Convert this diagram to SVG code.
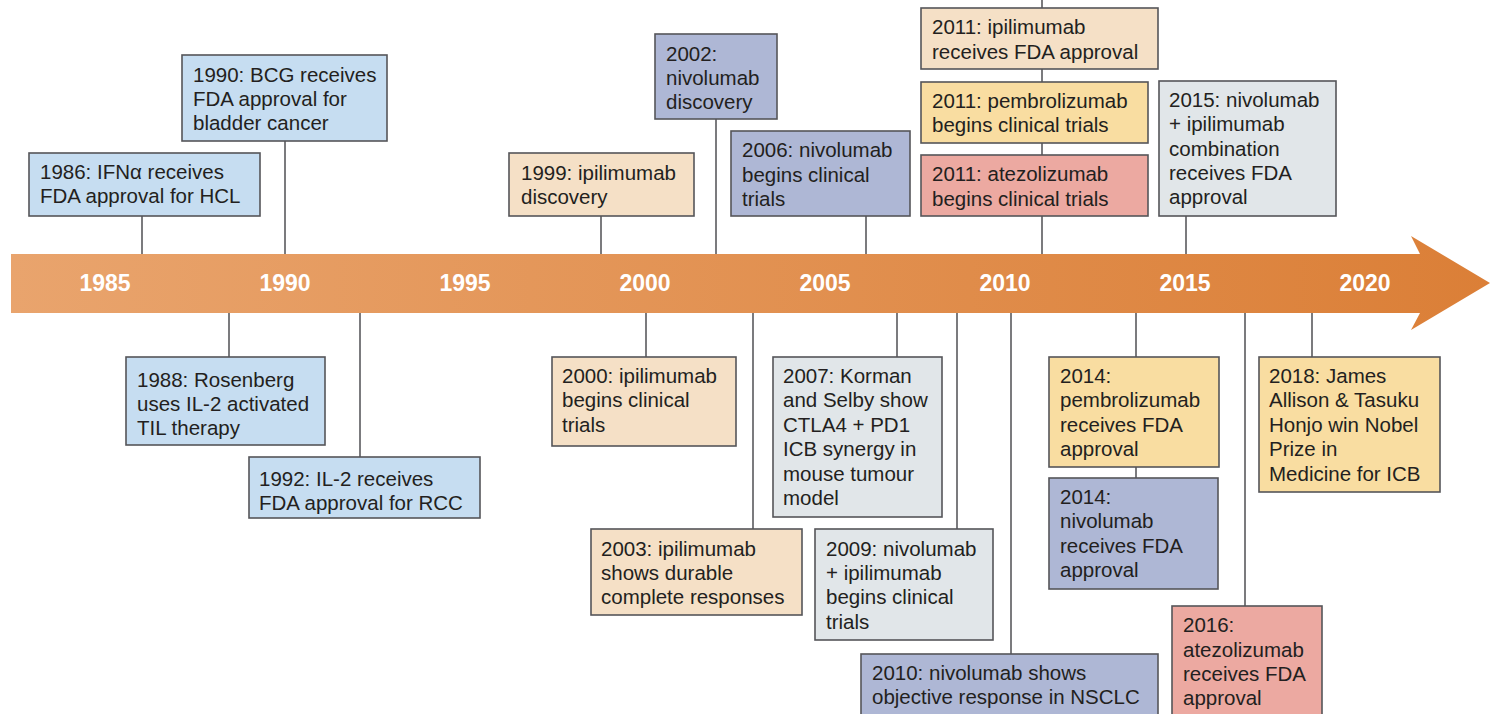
<svg xmlns="http://www.w3.org/2000/svg" width="1490" height="714" viewBox="0 0 1490 714">
<style>
.box{stroke:#555559;stroke-width:1.6}
.blue{fill:#C6DDF1}
.tan{fill:#F5E0C6}
.peri{fill:#AEB7D5}
.yel{fill:#F9DDA1}
.sal{fill:#ECA9A1}
.gry{fill:#E1E6E9}
.t{font-family:"Liberation Sans",Arial,sans-serif;font-size:20.5px;fill:#231F20}
.yr{font-family:"Liberation Sans",Arial,sans-serif;font-size:23px;font-weight:bold;fill:#FFFFFF;text-anchor:middle}
.con line{stroke:#5A5A5E;stroke-width:1.6}
</style>
<defs>
<linearGradient id="band" x1="0" y1="0" x2="1" y2="0">
<stop offset="0" stop-color="#E9A46D"/>
<stop offset="1" stop-color="#DB7F37"/>
</linearGradient>
</defs>
<rect width="1490" height="714" fill="#FFFFFF"/>
<g id="timeline">
<polygon points="11,254 1420,254 1411,236 1490,283 1411,330 1420,313 11,313" fill="url(#band)"/>
<text class="yr" x="105" y="291">1985</text>
<text class="yr" x="285" y="291">1990</text>
<text class="yr" x="465" y="291">1995</text>
<text class="yr" x="645" y="291">2000</text>
<text class="yr" x="825" y="291">2005</text>
<text class="yr" x="1005" y="291">2010</text>
<text class="yr" x="1185" y="291">2015</text>
<text class="yr" x="1365" y="291">2020</text>
</g>
<g id="connectors" class="con">
<line x1="142" y1="216" x2="142" y2="254"/>
<line x1="285" y1="141" x2="285" y2="254"/>
<line x1="229" y1="313" x2="229" y2="357"/>
<line x1="360" y1="313" x2="360" y2="457"/>
<line x1="601" y1="216" x2="601" y2="254"/>
<line x1="646" y1="313" x2="646" y2="357"/>
<line x1="716" y1="119" x2="716" y2="254"/>
<line x1="753" y1="313" x2="753" y2="529"/>
<line x1="866" y1="216" x2="866" y2="254"/>
<line x1="897" y1="313" x2="897" y2="357"/>
<line x1="957" y1="313" x2="957" y2="529"/>
<line x1="1011" y1="313" x2="1011" y2="654"/>
<line x1="1042" y1="0" x2="1042" y2="254"/>
<line x1="1136" y1="313" x2="1136" y2="478"/>
<line x1="1186" y1="216" x2="1186" y2="254"/>
<line x1="1245" y1="313" x2="1245" y2="606"/>
<line x1="1312" y1="313" x2="1312" y2="357"/>
</g>
<g id="n1986"><rect class="box blue" x="29" y="153" width="231" height="63"/>
<text class="t"><tspan x="40" y="179">1986: IFNα receives</tspan><tspan x="40" y="203">FDA approval for HCL</tspan></text></g>
<g id="n1990"><rect class="box blue" x="182" y="55" width="205" height="86"/>
<text class="t"><tspan x="193" y="82">1990: BCG receives</tspan><tspan x="193" y="106">FDA approval for</tspan><tspan x="193" y="130">bladder cancer</tspan></text></g>
<g id="n1988"><rect class="box blue" x="126" y="357" width="199" height="88"/>
<text class="t"><tspan x="137" y="387">1988: Rosenberg</tspan><tspan x="137" y="411">uses IL-2 activated</tspan><tspan x="137" y="435">TIL therapy</tspan></text></g>
<g id="n1992"><rect class="box blue" x="249" y="457" width="231" height="61"/>
<text class="t"><tspan x="259" y="486">1992: IL-2 receives</tspan><tspan x="259" y="510">FDA approval for RCC</tspan></text></g>
<g id="n1999"><rect class="box tan" x="509" y="153" width="185" height="63"/>
<text class="t"><tspan x="521" y="180">1999: ipilimumab</tspan><tspan x="521" y="204">discovery</tspan></text></g>
<g id="n2000"><rect class="box tan" x="552" y="357" width="184" height="89"/>
<text class="t"><tspan x="562" y="383">2000: ipilimumab</tspan><tspan x="562" y="407">begins clinical</tspan><tspan x="562" y="432">trials</tspan></text></g>
<g id="n2002"><rect class="box peri" x="655" y="34" width="122" height="85"/>
<text class="t"><tspan x="666" y="61">2002:</tspan><tspan x="666" y="85">nivolumab</tspan><tspan x="666" y="109">discovery</tspan></text></g>
<g id="n2003"><rect class="box tan" x="591" y="529" width="211" height="86"/>
<text class="t"><tspan x="601" y="556">2003: ipilimumab</tspan><tspan x="601" y="580">shows durable</tspan><tspan x="601" y="604">complete responses</tspan></text></g>
<g id="n2006"><rect class="box peri" x="731" y="131" width="179" height="85"/>
<text class="t"><tspan x="742" y="157">2006: nivolumab</tspan><tspan x="742" y="182">begins clinical</tspan><tspan x="742" y="206">trials</tspan></text></g>
<g id="n2007"><rect class="box gry" x="773" y="357" width="169" height="160"/>
<text class="t"><tspan x="783" y="383">2007: Korman</tspan><tspan x="783" y="407">and Selby show</tspan><tspan x="783" y="432">CTLA4 + PD1</tspan><tspan x="783" y="456">ICB synergy in</tspan><tspan x="783" y="481">mouse tumour</tspan><tspan x="783" y="505">model</tspan></text></g>
<g id="n2009"><rect class="box gry" x="815" y="529" width="178" height="111"/>
<text class="t"><tspan x="826" y="556">2009: nivolumab</tspan><tspan x="826" y="580">+ ipilimumab</tspan><tspan x="826" y="604">begins clinical</tspan><tspan x="826" y="629">trials</tspan></text></g>
<g id="n2010"><rect class="box peri" x="861" y="654" width="297" height="70"/>
<text class="t"><tspan x="872" y="680">2010: nivolumab shows</tspan><tspan x="872" y="704">objective response in NSCLC</tspan></text></g>
<g id="n2011a"><rect class="box tan" x="921" y="8" width="237" height="61"/>
<text class="t"><tspan x="932" y="34">2011: ipilimumab</tspan><tspan x="932" y="59">receives FDA approval</tspan></text></g>
<g id="n2011b"><rect class="box yel" x="921" y="82" width="227" height="61"/>
<text class="t"><tspan x="932" y="108">2011: pembrolizumab</tspan><tspan x="932" y="132">begins clinical trials</tspan></text></g>
<g id="n2011c"><rect class="box sal" x="921" y="155" width="227" height="61"/>
<text class="t"><tspan x="932" y="181">2011: atezolizumab</tspan><tspan x="932" y="206">begins clinical trials</tspan></text></g>
<g id="n2014a"><rect class="box yel" x="1049" y="357" width="170" height="110"/>
<text class="t"><tspan x="1060" y="383">2014:</tspan><tspan x="1060" y="407">pembrolizumab</tspan><tspan x="1060" y="432">receives FDA</tspan><tspan x="1060" y="456">approval</tspan></text></g>
<g id="n2014b"><rect class="box peri" x="1049" y="478" width="169" height="111"/>
<text class="t"><tspan x="1060" y="504">2014:</tspan><tspan x="1060" y="528">nivolumab</tspan><tspan x="1060" y="553">receives FDA</tspan><tspan x="1060" y="577">approval</tspan></text></g>
<g id="n2015"><rect class="box gry" x="1159" y="81" width="177" height="135"/>
<text class="t"><tspan x="1169" y="107">2015: nivolumab</tspan><tspan x="1169" y="131">+ ipilimumab</tspan><tspan x="1169" y="156">combination</tspan><tspan x="1169" y="180">receives FDA</tspan><tspan x="1169" y="204">approval</tspan></text></g>
<g id="n2016"><rect class="box sal" x="1172" y="606" width="150" height="120"/>
<text class="t"><tspan x="1183" y="632">2016:</tspan><tspan x="1183" y="657">atezolizumab</tspan><tspan x="1183" y="681">receives FDA</tspan><tspan x="1183" y="705">approval</tspan></text></g>
<g id="n2018"><rect class="box yel" x="1259" y="357" width="181" height="135"/>
<text class="t"><tspan x="1269" y="383">2018: James</tspan><tspan x="1269" y="407">Allison &amp; Tasuku</tspan><tspan x="1269" y="432">Honjo win Nobel</tspan><tspan x="1269" y="456">Prize in</tspan><tspan x="1269" y="481">Medicine for ICB</tspan></text></g>
</svg>
